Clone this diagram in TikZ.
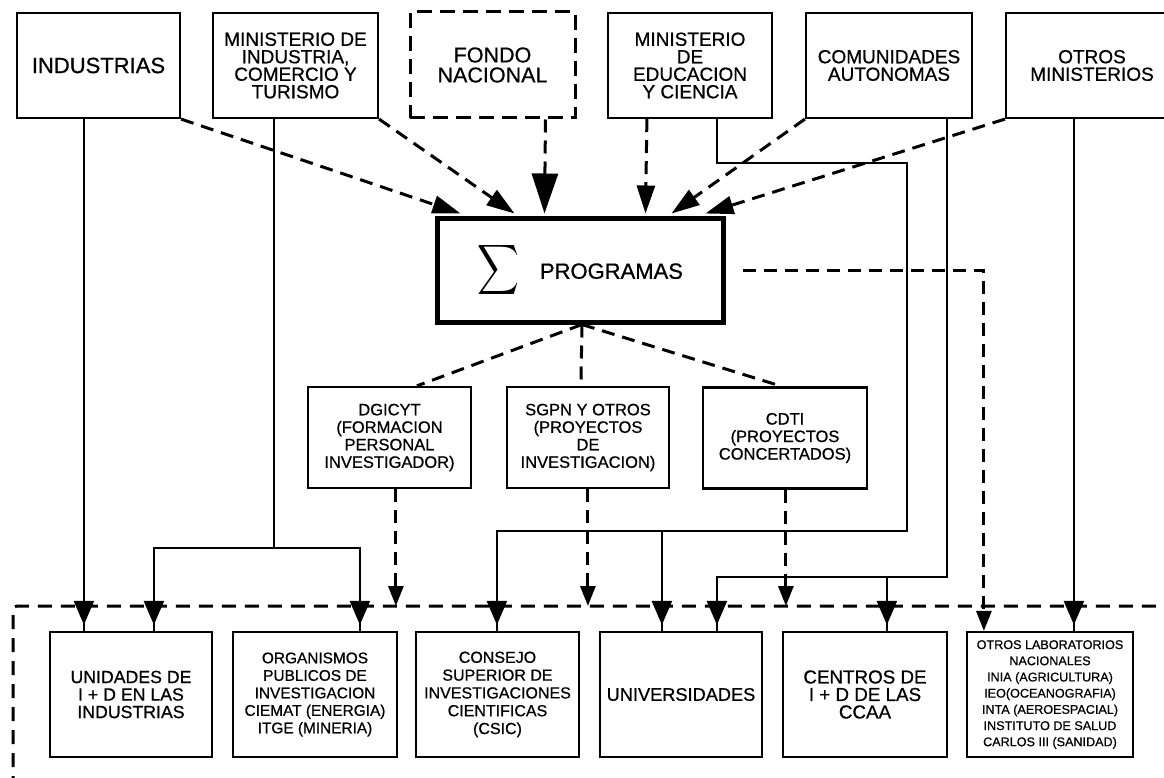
\documentclass[tikz,border=0pt]{standalone}
\usepackage{fontspec}
\setmainfont[FakeBold=0.7]{Liberation Sans}
\usepackage{graphicx}
\usetikzlibrary{arrows.meta,decorations.markings,calc}
\newcommand{\topf}{\fontsize{19}{17.5}\selectfont}
\newcommand{\midf}{\fontsize{16.5}{17.5}\selectfont}
\begin{document}
\begin{tikzpicture}[x=1pt,y=-1pt,
  box/.style={draw, line width=2.2pt, inner sep=0pt, align=center, minimum height=105pt, font=\topf},
  dsh/.style={line width=3pt, dash pattern=on 13pt off 8pt},
  sol/.style={line width=2.2pt},
  bigtip/.style={dsh, -{Triangle[length=28pt,width=18pt]}},
  midarr/.style={dsh, -{Triangle[length=20pt,width=15pt]}},
  solarr/.style={sol, postaction={decorate},
    decoration={markings, mark=at position -6pt with {\arrow{Triangle[length=24pt,width=20pt]}}}},
]
\fill[white] (0,0) rectangle (1164,778);
\useasboundingbox (0,0) rectangle (1164,778);
\clip (0,0) rectangle (1164,778);

% top row
\node[box, minimum width=163pt, font=\fontsize{22}{20}\selectfont] (ind) at (98.5,65.5) {INDUSTRIAS};
\node[box, minimum width=165pt] (mic) at (295.5,65.5) {MINISTERIO DE\\INDUSTRIA,\\COMERCIO Y\\TURISMO};
\node[box, line width=3pt, dash pattern=on 15pt off 8pt, minimum width=165pt, minimum height=106pt, font=\fontsize{21.5}{20}\selectfont] (fon) at (492.5,65) {FONDO\\NACIONAL};
\node[box, minimum width=164pt] (mec) at (690,65.5) {MINISTERIO\\DE\\EDUCACION\\Y CIENCIA};
\node[box, minimum width=166pt] (cca) at (889,65.5) {COMUNIDADES\\AUTONOMAS};
\node[box, minimum width=172pt] (otm) at (1092,65.5) {OTROS\\MINISTERIOS};

% programas
\node[draw, line width=5pt, minimum width=286pt, minimum height=104pt, inner sep=0pt] (prog) at (580,270)
  {\scalebox{2.9}[3.5]{$\displaystyle\sum$}\hspace{21pt}{\fontsize{22}{22}\selectfont PROGRAMAS}};

% middle row
\node[box, minimum width=163pt, minimum height=101pt, font=\midf] (dg) at (389.5,437.5) {DGICYT\\(FORMACION\\PERSONAL\\INVESTIGADOR)};
\node[box, minimum width=162pt, minimum height=101pt, font=\midf] (sg) at (588,437.5) {SGPN Y OTROS\\(PROYECTOS\\DE\\INVESTIGACION)};
\node[box, minimum width=164pt, minimum height=101pt, font=\midf] (cd) at (785,438) {CDTI\\(PROYECTOS\\CONCERTADOS)};

% bottom row
\node[box, minimum width=162pt, minimum height=125pt, font=\fontsize{17.7}{17.5}\selectfont] (uni) at (131,694.5) {UNIDADES DE\\I + D EN LAS\\INDUSTRIAS};
\node[box, minimum width=164pt, minimum height=125pt, font=\fontsize{15.4}{17.5}\selectfont] (org) at (315,694.5) {ORGANISMOS\\PUBLICOS DE\\INVESTIGACION\\CIEMAT (ENERGIA)\\ITGE (MINERIA)};
\node[box, minimum width=163pt, minimum height=125pt, font=\fontsize{16}{17.8}\selectfont] (csic) at (497.5,694.5) {CONSEJO\\SUPERIOR DE\\INVESTIGACIONES\\CIENTIFICAS\\(CSIC)};
\node[box, minimum width=162pt, minimum height=125pt, font=\fontsize{18.2}{18}\selectfont] (univ) at (681,694.5) {UNIVERSIDADES};
\node[box, minimum width=164pt, minimum height=125pt, font=\fontsize{18.8}{17.5}\selectfont] (cen) at (865,694.5) {CENTROS DE\\I + D DE LAS\\CCAA};
\node[box, minimum width=166pt, minimum height=125pt, font=\fontsize{12.6}{16.2}\selectfont] (olab) at (1050,694.5) {OTROS LABORATORIOS\\NACIONALES\\INIA (AGRICULTURA)\\IEO(OCEANOGRAFIA)\\INTA (AEROESPACIAL)\\INSTITUTO DE SALUD\\CARLOS III (SANIDAD)};

% enclosure
\coordinate (enc) at (13,606);
\draw[line width=3pt, dash pattern=on 14pt off 9pt, rounded corners=4pt] (13,790) -- (enc) -- (1190,606);

% dashed arrows into programas
\draw[bigtip] (ind.south east) -- ($(prog.north west)+(26,-2)$);
\draw[bigtip] (mic.south east) -- ($(prog.north west)+(80,-2)$);
\draw[dsh, -{Triangle[length=40pt,width=26pt]}] ($(fon.south west)+(137,0)$) -- ($(prog.north west)+(110,-2)$);
\draw[bigtip] ($(mec.south west)+(40,0)$) -- ($(prog.north west)+(211,-2)$);
\draw[bigtip] (cca.south west) -- ($(prog.north west)+(237,-2)$);
\draw[bigtip] (otm.south west) -- ($(prog.north west)+(271,-2)$);

% dashed lines from programas
\draw[dsh] ($(prog.south)+(2,0)$) -- ($(dg.north west)+(110,0)$);
\draw[dsh] ($(prog.south)+(2,0)$) -- ($(sg.north west)+(75,0)$);
\draw[dsh] ($(prog.south)+(2,0)$) -- ($(cd.north west)+(80,0)$);

% dashed arrows to enclosure
\draw[midarr] ($(dg.south west)+(89,0)$) coordinate (a1) -- (a1 |- enc);
\draw[midarr] ($(sg.south west)+(82,0)$) coordinate (a2) -- (a2 |- enc);
\draw[midarr] ($(cd.south west)+(84,0)$) coordinate (a3) -- (a3 |- enc);
\draw[midarr] ($(prog.east)+(17,0)$) -| ($(olab.north west)+(18,0)$ |- enc);

% solid connectors
\draw[solarr] ($(ind.south west)+(68,0)$) -- ($(uni.north west)+(35,0)$);
\draw[solarr] ($(mic.south west)+(62,0)$) |- ($(uni.north west)+(105,-83)$) -- ($(uni.north west)+(105,0)$);
\draw[solarr] ($(mic.south west)+(62,0)$) |- ($(org.north west)+(128,-83)$) -- ($(org.north west)+(128,0)$);
\draw[solarr] ($(mec.south west)+(110,0)$) -- ++(0,44) -- ++(190,0) -- ++(0,368) -| ($(csic.north west)+(82,0)$);
\draw[solarr] ($(mec.south west)+(110,0)$) -- ++(0,44) -- ++(190,0) -- ++(0,368) -| ($(univ.north west)+(63,0)$);
\draw[solarr] ($(cca.south west)+(142,0)$) |- ($(univ.north west)+(118,-54)$) -- ($(univ.north west)+(118,0)$);
\draw[solarr] ($(cca.south west)+(142,0)$) |- ($(cen.north west)+(105,-54)$) -- ($(cen.north west)+(105,0)$);
\draw[solarr] ($(otm.south west)+(69,0)$) -- ($(olab.north west)+(108,0)$);
\end{tikzpicture}
\end{document}
